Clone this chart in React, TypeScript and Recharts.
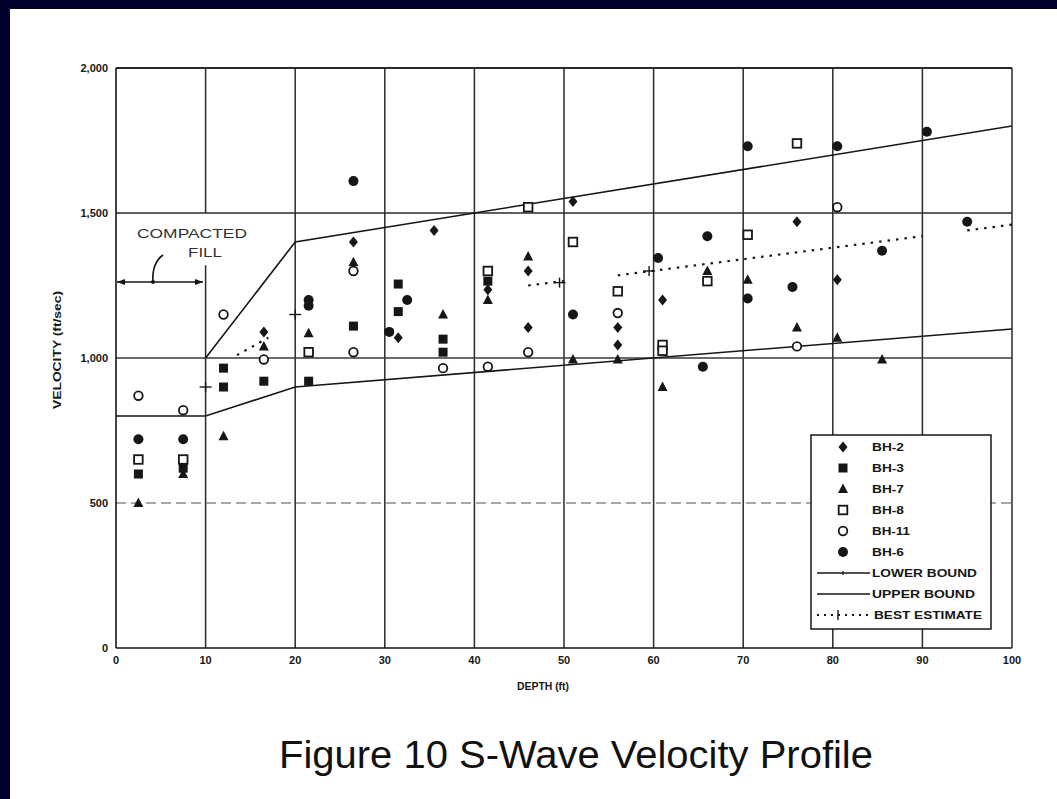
import {
  ComposedChart,
  Legend,
  Line,
  ReferenceLine,
  Scatter,
  XAxis,
  YAxis,
} from "recharts";

type Pair = [number, number];
type Marker = "diamond" | "bowtie" | "triangle" | "openSquare" | "openCircle" | "dot";

const FONT = "'Liberation Sans', Arial, sans-serif";
const INK = "#161616";

const X_TICKS = [0, 10, 20, 30, 40, 50, 60, 70, 80, 90, 100];
const Y_TICKS = [0, 500, 1000, 1500, 2000];

// depth (ft), velocity (ft/sec)
const BH2: Pair[] = [
  [16.5, 1090], [26.5, 1400], [31.5, 1070], [35.5, 1440], [41.5, 1235], [46, 1300],
  [46, 1105], [51, 1540], [56, 1105], [56, 1045], [61, 1200], [76, 1470], [80.5, 1270],
];
const BH3: Pair[] = [
  [2.5, 600], [7.5, 620], [12, 965], [12, 900], [16.5, 920], [21.5, 920], [26.5, 1110],
  [31.5, 1255], [31.5, 1160], [36.5, 1065], [36.5, 1020], [41.5, 1265],
];
const BH7: Pair[] = [
  [2.5, 500], [7.5, 600], [12, 730], [16.5, 1040], [21.5, 1085], [26.5, 1330], [36.5, 1150],
  [41.5, 1200], [46, 1350], [51, 995], [56, 995], [61, 900], [66, 1300], [70.5, 1270],
  [76, 1105], [80.5, 1070], [85.5, 995],
];
const BH8: Pair[] = [
  [2.5, 650], [7.5, 650], [21.5, 1020], [41.5, 1300], [46, 1520], [51, 1400], [56, 1230],
  [61, 1045], [61, 1025], [66, 1265], [70.5, 1425], [76, 1740],
];
const BH11: Pair[] = [
  [2.5, 870], [7.5, 820], [12, 1150], [16.5, 995], [26.5, 1300], [26.5, 1020], [36.5, 965],
  [41.5, 970], [46, 1020], [56, 1155], [76, 1040], [80.5, 1520],
];
const BH6: Pair[] = [
  [2.5, 720], [7.5, 720], [21.5, 1200], [21.5, 1180], [26.5, 1610], [30.5, 1090],
  [32.5, 1200], [51, 1150], [60.5, 1345], [65.5, 970], [66, 1420], [70.5, 1730],
  [70.5, 1205], [75.5, 1245], [80.5, 1730], [85.5, 1370], [90.5, 1780], [95, 1470],
];

const LOWER_BOUND: Pair[] = [[0, 800], [10, 800], [20, 900], [100, 1100]];
const UPPER_BOUND: Pair[] = [[10, 1000], [20, 1400], [100, 1800]];
// the scan only shows parts of the dotted line; nulls keep the gaps
const BEST_ESTIMATE: [number, number | null][] = [
  [13.5, 1010], [17, 1070], [18, null], [46, 1250], [50, 1265], [53, null],
  [56, 1285], [90, 1420], [92, null], [95, 1440], [100, 1460],
];
const BEST_TICKS: Pair[] = [[10, 900], [20, 1150], [49.5, 1260], [59.5, 1300]];

const BOREHOLES: { name: string; data: Pair[]; marker: Marker; labelWidth: number }[] = [
  { name: "BH-2", data: BH2, marker: "diamond", labelWidth: 32 },
  { name: "BH-3", data: BH3, marker: "bowtie", labelWidth: 32 },
  { name: "BH-7", data: BH7, marker: "triangle", labelWidth: 32 },
  { name: "BH-8", data: BH8, marker: "openSquare", labelWidth: 32 },
  { name: "BH-11", data: BH11, marker: "openCircle", labelWidth: 38 },
  { name: "BH-6", data: BH6, marker: "dot", labelWidth: 32 },
];

const rows = (pts: [number, number | null][]) => pts.map(([depth, v]) => ({ depth, v }));

function drawMarker(kind: Marker, cx = 0, cy = 0) {
  switch (kind) {
    case "diamond":
      return (
        <polygon
          points={`${cx},${cy - 5.5} ${cx + 4.5},${cy} ${cx},${cy + 5.5} ${cx - 4.5},${cy}`}
          fill={INK}
        />
      );
    case "bowtie":
      return <rect x={cx - 4.5} y={cy - 4.5} width={9} height={9} fill={INK} />;
    case "triangle":
      return (
        <polygon points={`${cx},${cy - 5.5} ${cx + 5},${cy + 4} ${cx - 5},${cy + 4}`} fill={INK} />
      );
    case "openSquare":
      return (
        <rect x={cx - 4.3} y={cy - 4.3} width={8.6} height={8.6} fill="#fff" stroke={INK} strokeWidth={1.8} />
      );
    case "openCircle":
      return <circle cx={cx} cy={cy} r={4.3} fill="#fff" stroke={INK} strokeWidth={1.8} />;
    default:
      return <circle cx={cx} cy={cy} r={5} fill={INK} />;
  }
}

function LegendBox() {
  const rowY = (i: number) => 13 + i * 21;
  const text = { fontFamily: FONT, fontSize: 11, fontWeight: 700, fill: INK } as const;
  return (
    <svg width={182} height={196} style={{ display: "block" }}>
      <rect x={1} y={1} width={180} height={194} fill="#fff" stroke={INK} strokeWidth={1.5} />
      {BOREHOLES.map((b, i) => (
        <g key={b.name}>
          {drawMarker(b.marker, 33, rowY(i))}
          <text x={62} y={rowY(i) + 4} textLength={b.labelWidth} lengthAdjust="spacingAndGlyphs" {...text}>
            {b.name}
          </text>
        </g>
      ))}
      <line x1={7} x2={60} y1={rowY(6)} y2={rowY(6)} stroke={INK} strokeWidth={1.4} />
      <line x1={33} x2={33} y1={rowY(6) - 2} y2={rowY(6) + 2} stroke={INK} strokeWidth={1.2} />
      <text x={62} y={rowY(6) + 4} textLength={105} lengthAdjust="spacingAndGlyphs" {...text}>
        LOWER BOUND
      </text>
      <line x1={7} x2={60} y1={rowY(7)} y2={rowY(7)} stroke={INK} strokeWidth={1.4} />
      <text x={62} y={rowY(7) + 4} textLength={103} lengthAdjust="spacingAndGlyphs" {...text}>
        UPPER BOUND
      </text>
      <line x1={7} x2={60} y1={rowY(8)} y2={rowY(8)} stroke={INK} strokeWidth={2} strokeDasharray="2 5" />
      <line x1={28} x2={28} y1={rowY(8) - 5} y2={rowY(8) + 5} stroke={INK} strokeWidth={1.4} />
      <text x={64} y={rowY(8) + 4} textLength={108} lengthAdjust="spacingAndGlyphs" {...text}>
        BEST ESTIMATE
      </text>
    </svg>
  );
}

export default function App() {
  const tick = { fontSize: 11, fontWeight: 700, fill: INK, fontFamily: FONT };
  return (
    <div
      style={{
        position: "fixed",
        left: 0,
        top: 0,
        width: 1057,
        height: 799,
        background: "#00002e",
        overflow: "hidden",
      }}
    >
      <div style={{ position: "absolute", left: 10, top: 9, width: 1047, height: 790, background: "#fff" }}>
        <ComposedChart
          width={1047}
          height={790}
          margin={{ top: 59, right: 45, left: 0, bottom: 0 }}
          style={{ fontFamily: FONT }}
        >
          <XAxis
            dataKey="depth"
            type="number"
            domain={[0, 100]}
            ticks={X_TICKS}
            height={151}
            tick={tick}
            tickLine={false}
            axisLine={{ stroke: INK, strokeWidth: 1.6 }}
            allowDataOverflow
          />
          <YAxis
            type="number"
            domain={[0, 2000]}
            ticks={Y_TICKS}
            width={106}
            tick={tick}
            tickLine={false}
            tickFormatter={(v: number) => v.toLocaleString("en-US")}
            axisLine={{ stroke: INK, strokeWidth: 1.6 }}
            allowDataOverflow
          />

          {X_TICKS.filter((d) => d !== 10 && d !== 0).map((d) => (
            <ReferenceLine key={`vx${d}`} x={d} stroke="#2a2a2a" strokeWidth={1.5} />
          ))}
          <ReferenceLine segment={[{ x: 10, y: 2000 }, { x: 10, y: 1500 }]} stroke="#2a2a2a" strokeWidth={1.5} />
          <ReferenceLine segment={[{ x: 10, y: 1320 }, { x: 10, y: 0 }]} stroke="#2a2a2a" strokeWidth={1.5} />
          <ReferenceLine y={500} stroke="#8a8a8a" strokeWidth={1.3} strokeDasharray="10 5" />
          <ReferenceLine y={1000} stroke="#3a3a3a" strokeWidth={1.3} />
          <ReferenceLine y={1500} stroke="#2a2a2a" strokeWidth={1.4} />
          <ReferenceLine y={2000} stroke="#2a2a2a" strokeWidth={1.8} />

          <Line
            data={rows(LOWER_BOUND)}
            dataKey="v"
            name="LOWER BOUND"
            stroke={INK}
            strokeWidth={1.6}
            dot={false}
            isAnimationActive={false}
            legendType="none"
          />
          <Line
            data={rows(UPPER_BOUND)}
            dataKey="v"
            name="UPPER BOUND"
            stroke={INK}
            strokeWidth={1.6}
            dot={false}
            isAnimationActive={false}
            legendType="none"
          />
          <Line
            data={rows(BEST_ESTIMATE)}
            dataKey="v"
            name="BEST ESTIMATE"
            stroke={INK}
            strokeWidth={2.2}
            strokeDasharray="2.5 6"
            connectNulls={false}
            dot={false}
            isAnimationActive={false}
            legendType="none"
          />
          <Scatter
            data={rows(BEST_TICKS)}
            dataKey="v"
            isAnimationActive={false}
            legendType="none"
            shape={(p: { cx?: number; cy?: number }) => (
              <g>
                <line x1={p.cx} x2={p.cx} y1={(p.cy ?? 0) - 5} y2={(p.cy ?? 0) + 5} stroke={INK} strokeWidth={1.4} />
                <line x1={(p.cx ?? 0) - 6} x2={(p.cx ?? 0) + 6} y1={p.cy} y2={p.cy} stroke={INK} strokeWidth={1.4} />
              </g>
            )}
          />

          {BOREHOLES.map((b) => (
            <Scatter
              key={b.name}
              name={b.name}
              data={rows(b.data)}
              dataKey="v"
              isAnimationActive={false}
              shape={(p: { cx?: number; cy?: number }) => drawMarker(b.marker, p.cx, p.cy)}
            />
          ))}

          <Legend
            layout="vertical"
            align="center"
            verticalAlign="middle"
            wrapperStyle={{ left: 800, top: 425, width: 182, height: 196 }}
            content={() => <LegendBox />}
          />
        </ComposedChart>
      </div>

      <svg
        width={1057}
        height={799}
        style={{ position: "absolute", left: 0, top: 0, pointerEvents: "none" }}
      >
        <text
          x={58}
          y={350}
          transform="rotate(-90 58 350)"
          textAnchor="middle"
          dominantBaseline="middle"
          fontFamily={FONT}
          fontSize={10}
          fontWeight={700}
          fill={INK}
          textLength={118}
          lengthAdjust="spacingAndGlyphs"
        >
          VELOCITY (ft/sec)
        </text>
        <text
          x={543}
          y={690}
          textAnchor="middle"
          fontFamily={FONT}
          fontSize={10}
          fontWeight={700}
          fill={INK}
          textLength={52}
          lengthAdjust="spacingAndGlyphs"
        >
          DEPTH (ft)
        </text>

        <text
          x={192}
          y={238}
          textAnchor="middle"
          fontFamily={FONT}
          fontSize={13}
          fill="#333"
          textLength={110}
          lengthAdjust="spacingAndGlyphs"
        >
          COMPACTED
        </text>
        <text
          x={205}
          y={257}
          textAnchor="middle"
          fontFamily={FONT}
          fontSize={13}
          fill="#333"
          textLength={34}
          lengthAdjust="spacingAndGlyphs"
        >
          FILL
        </text>
        <line x1={117} x2={203} y1={282} y2={282} stroke={INK} strokeWidth={1.5} />
        <polygon points="117,282 125,279 125,285" fill={INK} />
        <polygon points="203,282 195,279 195,285" fill={INK} />
        <path d="M153 283 C 152 270, 156 260, 163 255" fill="none" stroke={INK} strokeWidth={1.6} />
        <circle cx={153} cy={282} r={2} fill={INK} />

        <text
          x={576}
          y={768}
          textAnchor="middle"
          fontFamily={FONT}
          fontSize={38}
          fill="#111"
          textLength={594}
          lengthAdjust="spacingAndGlyphs"
        >
          Figure 10 S-Wave Velocity Profile
        </text>
      </svg>
    </div>
  );
}
